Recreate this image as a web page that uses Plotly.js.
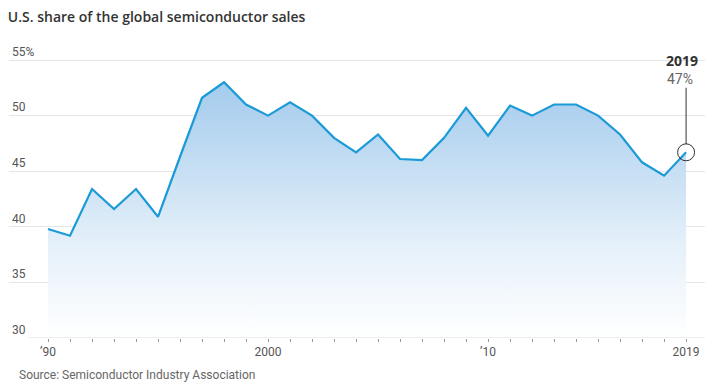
<!DOCTYPE html>
<html>
<head>
<meta charset="utf-8">
<script src="https://cdn.plot.ly/plotly-3.0.1.min.js"></script>
<style>html,body{margin:0;padding:0;background:#fff;}#chart{width:713px;height:391px;}</style>
</head>
<body>
<div id="chart"></div>
<script>
const years = [1990,1991,1992,1993,1994,1995,1996,1997,1998,1999,2000,2001,2002,2003,2004,2005,2006,2007,2008,2009,2010,2011,2012,2013,2014,2015,2016,2017,2018,2019];
const usShare = [39.8,39.2,43.4,41.6,43.4,40.9,46.3,51.6,53.0,51.0,50.0,51.2,50.0,48.0,46.7,48.3,46.1,46.0,48.0,50.7,48.2,50.9,50.0,51.0,51.0,50.0,48.3,45.8,44.6,46.7];
const yTicks = [30,35,40,45,50,55];
const yTickText = ['30','35','40','45','50','55%'];
const xTickVals = years;
const xTickText = years.map(y => y===1990 ? '\u201990' : y===2000 ? '2000' : y===2010 ? '\u201910' : y===2019 ? '2019' : '');
const lastYear = years[years.length-1];
const lastVal = usShare[usShare.length-1];

const traces = [
  {
    x: years, y: usShare, type: 'scatter', mode: 'lines',
    line: {color: '#1a9ad6', width: 2.2},
    fill: 'tozeroy',
    fillgradient: {type: 'vertical', start: 30, stop: 53,
      colorscale: [[0,'rgba(255,255,255,1)'],[0.35,'#e6f1fa'],[1,'#a4cbed']]},
    hoverinfo: 'skip'
  },
  {
    x: [lastYear], y: [lastVal], type: 'scatter', mode: 'markers',
    marker: {size: 17, color: 'rgba(0,0,0,0)', line: {color: '#333', width: 1}},
    hoverinfo: 'skip', cliponaxis: false
  }
];

const layout = {
  width: 713, height: 391,
  margin: {l: 9, r: 8, t: 44, b: 53},
  paper_bgcolor: '#fff', plot_bgcolor: '#fff',
  showlegend: false,
  font: {family: 'Roboto, sans-serif', color: '#555'},
  title: {text: 'U.S. share of the global semiconductor sales', x: 0.011, xanchor: 'left', y: 0.955, yanchor: 'middle',
    font: {family: 'Open Sans, sans-serif', size: 14, weight: 600, color: '#333'}},
  xaxis: {
    range: [1988.227, 2019.86], tickmode: 'array', tickvals: xTickVals, ticktext: xTickText,
    showgrid: false, zeroline: false, showline: false,
    ticks: 'outside', ticklen: 3, tickcolor: '#999', tickwidth: 1,
    tickfont: {size: 12, color: '#555'}, fixedrange: true
  },
  yaxis: {
    range: [30, 56.44], tickmode: 'array', tickvals: yTicks, ticktext: yTickText,
    ticklabelposition: 'inside top', showgrid: true, gridcolor: '#e6e6e6', gridwidth: 1,
    zeroline: false, showline: false, ticks: '',
    tickfont: {size: 12, color: '#555'}, fixedrange: true
  },
  shapes: [
    {type: 'line', xref: 'paper', yref: 'y', x0: 0.027, x1: 1, y0: 30, y1: 30, line: {color: '#dcdcdc', width: 1}, layer: 'above'}
  ],
  annotations: [
    {x: lastYear, y: lastVal, xref: 'x', yref: 'y', text: '', showarrow: true, arrowhead: 0,
     arrowwidth: 1, arrowcolor: '#333', ax: 0, ay: -66, standoff: 8},
    {x: lastYear, y: 55, xref: 'x', yref: 'y', yshift: 0, text: '<b>' + lastYear + '</b>', showarrow: false,
     xanchor: 'center', yanchor: 'middle', font: {size: 14, color: '#333', family: 'Open Sans, sans-serif'}, xshift: -4},
    {x: lastYear, y: 55, xref: 'x', yref: 'y', yshift: -19, text: Math.round(lastVal) + '%', showarrow: false,
     xanchor: 'center', yanchor: 'middle', font: {size: 14, color: '#666', family: 'Roboto, sans-serif'}, xshift: -6},
    {x: 0.011, y: -0.125, xref: 'paper', yref: 'paper', text: 'Source: Semiconductor Industry Association', showarrow: false,
     xanchor: 'left', yanchor: 'middle', font: {size: 12, color: '#666', family: 'Roboto, sans-serif'}}
  ]
};

Plotly.newPlot('chart', traces, layout, {displayModeBar: false, staticPlot: true});
</script>
</body>
</html>
